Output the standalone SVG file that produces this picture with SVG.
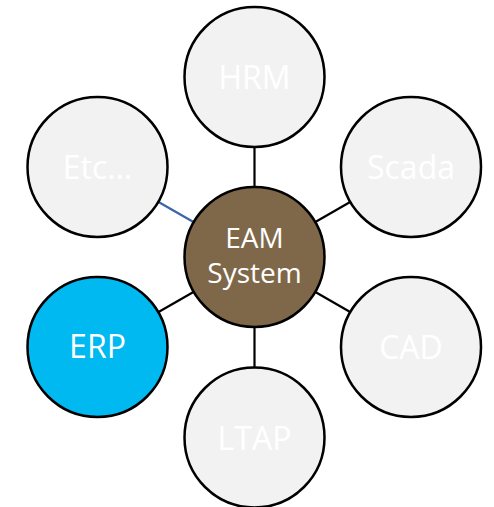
<svg xmlns="http://www.w3.org/2000/svg" width="494" height="507" viewBox="0 0 494 507">
<style>
.c{stroke:#000;stroke-width:2.5}
.o{fill:#F2F2F2}
.l{stroke:#000;stroke-width:2.2;fill:none}
.t{font-family:"Open Sans","Liberation Sans",sans-serif;fill:#fff;text-anchor:middle}
.to{font-size:32px}
.tc{font-size:28px}
</style>
<rect width="494" height="507" fill="#fff"/>
<g id="connectors">
<line class="l" x1="254.5" y1="257" x2="254.5" y2="77"/>
<line class="l" x1="254.5" y1="257" x2="411" y2="167"/>
<line class="l" x1="254.5" y1="257" x2="411" y2="347"/>
<line class="l" x1="254.5" y1="257" x2="254.5" y2="437.5"/>
<line class="l" x1="254.5" y1="257" x2="97.5" y2="347"/>
<line class="l" x1="254.5" y1="257" x2="97.5" y2="167" style="stroke:#3B64AE"/>
</g>
<g id="hrm"><circle class="c o" cx="254.5" cy="77" r="70"/><text class="t to" x="254.5" y="89">HRM</text></g>
<g id="scada"><circle class="c o" cx="411" cy="167" r="70"/><text class="t to" x="411" y="179">Scada</text></g>
<g id="cad"><circle class="c o" cx="411" cy="347" r="70"/><text class="t to" x="411" y="359">CAD</text></g>
<g id="ltap"><circle class="c o" cx="254.5" cy="437.5" r="70"/><text class="t to" x="254.5" y="449.5">LTAP</text></g>
<g id="erp"><circle class="c" fill="#00B9F1" cx="97.5" cy="347" r="70"/><text class="t to" x="97.5" y="358">ERP</text></g>
<g id="etc"><circle class="c o" cx="97.5" cy="167" r="70"/><text class="t to" x="97.5" y="179">Etc…</text></g>
<g id="eam"><circle class="c" fill="#7F6849" cx="254.5" cy="257" r="70"/><text class="t tc" x="254.5" y="248">EAM</text><text class="t tc" x="254.5" y="283">System</text></g>
</svg>
